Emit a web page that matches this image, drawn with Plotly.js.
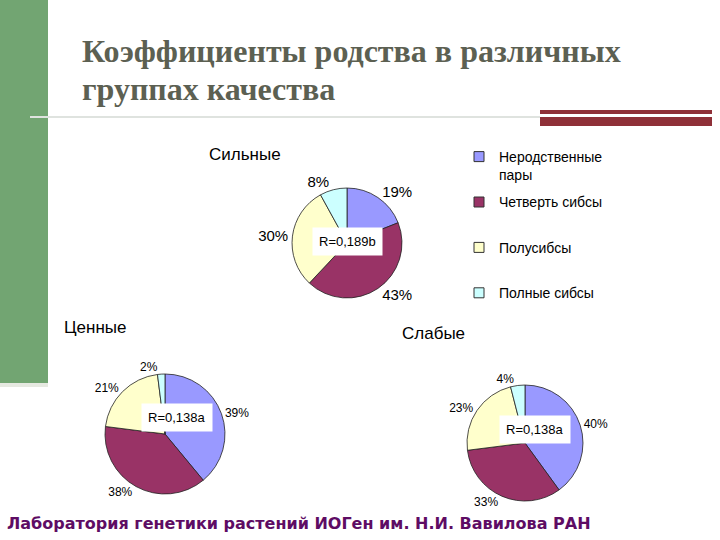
<!DOCTYPE html>
<html><head><meta charset="utf-8">
<script src="https://cdn.plot.ly/plotly-3.0.1.min.js"></script>
<style>body{margin:0;background:#fff}#c{width:720px;height:540px}</style>
</head><body><div id="c"></div><script>
const categories = ["Неродственные<br>пары", "Четверть сибсы", "Полусибсы", "Полные сибсы"];
const colors = ["#9999ff", "#993366", "#ffffcc", "#ccffff"];
const groups = ["Сильные", "Ценные", "Слабые"];
const strongVals = [19, 43, 30, 8];
const valuableVals = [39, 38, 21, 2];
const weakVals = [40, 33, 23, 4];
const rLabels = ["R=0,189b", "R=0,138a", "R=0,138a"];

function pie(vals, dom, fs) {
  return {
    type: 'pie', values: vals, labels: categories, sort: false, direction: 'clockwise',
    rotation: 0, domain: dom, showlegend: false, textinfo: 'percent', textposition: 'outside',
    outsidetextfont: {family: 'Liberation Sans, Arial, sans-serif', size: fs, color: '#000'},
    marker: {colors: colors, line: {color: '#222', width: 0.8}}, hoverinfo: 'none'
  };
}
const traces = [
  pie(strongVals, {x: [0.4056, 0.5583], y: [0.4481, 0.6519]}, 15),
  pie(valuableVals, {x: [0.1458, 0.3125], y: [0.0852, 0.3074]}, 12),
  pie(weakVals, {x: [0.6486, 0.8097], y: [0.0722, 0.287]}, 12)
];
// legend entries: pad single-line names (except the last) to two lines for the slide's spacing
categories.forEach((c, i) => traces.push({
  type: 'scatter', mode: 'markers', x: [null], y: [null],
  name: (c.indexOf('<br>') < 0 && i < categories.length - 1) ? c + '<br> ' : c,
  legendgroup: 'g' + i,
  marker: {symbol: 'square', size: 10, color: colors[i], line: {color: '#333', width: 1}}
}));

const txt = {family: 'Liberation Sans, Arial, sans-serif', color: '#000'};
const annotations = [
  {x: 207/720, y: 1 - 155/540, text: groups[0], xanchor: 'left', font: Object.assign({size: 17}, txt)},
  {x: 62/720, y: 1 - 327/540, text: groups[1], xanchor: 'left', font: Object.assign({size: 17}, txt)},
  {x: 400/720, y: 1 - 333/540, text: groups[2], xanchor: 'left', font: Object.assign({size: 17}, txt)},
  {x: 347/720, y: 1 - 241/540, text: rLabels[0], bgcolor: '#fff', borderpad: 6, font: Object.assign({size: 13}, txt)},
  {x: 177/720, y: 1 - 417/540, text: rLabels[1], bgcolor: '#fff', borderpad: 6, font: Object.assign({size: 13}, txt)},
  {x: 535/720, y: 1 - 429/540, text: rLabels[2], bgcolor: '#fff', borderpad: 6, font: Object.assign({size: 13}, txt)},
  {x: 80/720, y: 1 - 51/540, xanchor: 'left', text: '<b>Коэффициенты родства в различных</b>', font: {family: 'Liberation Serif, Times New Roman, serif', size: 32, color: '#5c6052'}},
  {x: 80/720, y: 1 - 89/540, xanchor: 'left', text: '<b>группах качества</b>', font: {family: 'Liberation Serif, Times New Roman, serif', size: 32, color: '#5c6052'}},
  {x: 5/720, y: 1 - 523/540, xanchor: 'left', text: '<b>Лаборатория генетики растений ИОГен им. Н.И. Вавилова РАН</b>', font: {family: 'DejaVu Sans, sans-serif', size: 16, color: '#5e0c64'}}
].map(a => Object.assign({xref: 'paper', yref: 'paper', showarrow: false, xanchor: 'center', yanchor: 'middle'}, a));

const shapes = [
  {type: 'rect', x0: 0, x1: 48/720, y0: 1 - 383/540, y1: 1, fillcolor: '#72a572', line: {width: 0}},
  {type: 'rect', x0: 0, x1: 48/720, y0: 1 - 387/540, y1: 1 - 383/540, fillcolor: '#e6e9e1', line: {width: 0}},
  {type: 'rect', x0: 30/720, x1: 540/720, y0: 1 - 118/540, y1: 1 - 116/540, fillcolor: '#dfe3df', line: {width: 0}},
  {type: 'rect', x0: 540/720, x1: 712/720, y0: 1 - 114/540, y1: 1 - 110/540, fillcolor: '#8f3038', line: {width: 0}},
  {type: 'rect', x0: 540/720, x1: 712/720, y0: 1 - 126/540, y1: 1 - 117/540, fillcolor: '#8f3038', line: {width: 0}}
].map(s => Object.assign({xref: 'paper', yref: 'paper', layer: 'below'}, s));

const layout = {
  width: 720, height: 540, margin: {l: 0, r: 0, t: 0, b: 0},
  paper_bgcolor: '#fff', plot_bgcolor: 'rgba(0,0,0,0)',
  xaxis: {visible: false}, yaxis: {visible: false},
  showlegend: true,
  legend: {x: 459/720, y: 1 - 141/540, xanchor: 'left', yanchor: 'top', valign: 'top',
    tracegroupgap: 6, font: {family: 'Liberation Sans, Arial, sans-serif', size: 14, color: '#000'},
    bgcolor: 'rgba(0,0,0,0)'},
  annotations: annotations, shapes: shapes
};
Plotly.newPlot('c', traces, layout, {staticPlot: true});
</script></body></html>
